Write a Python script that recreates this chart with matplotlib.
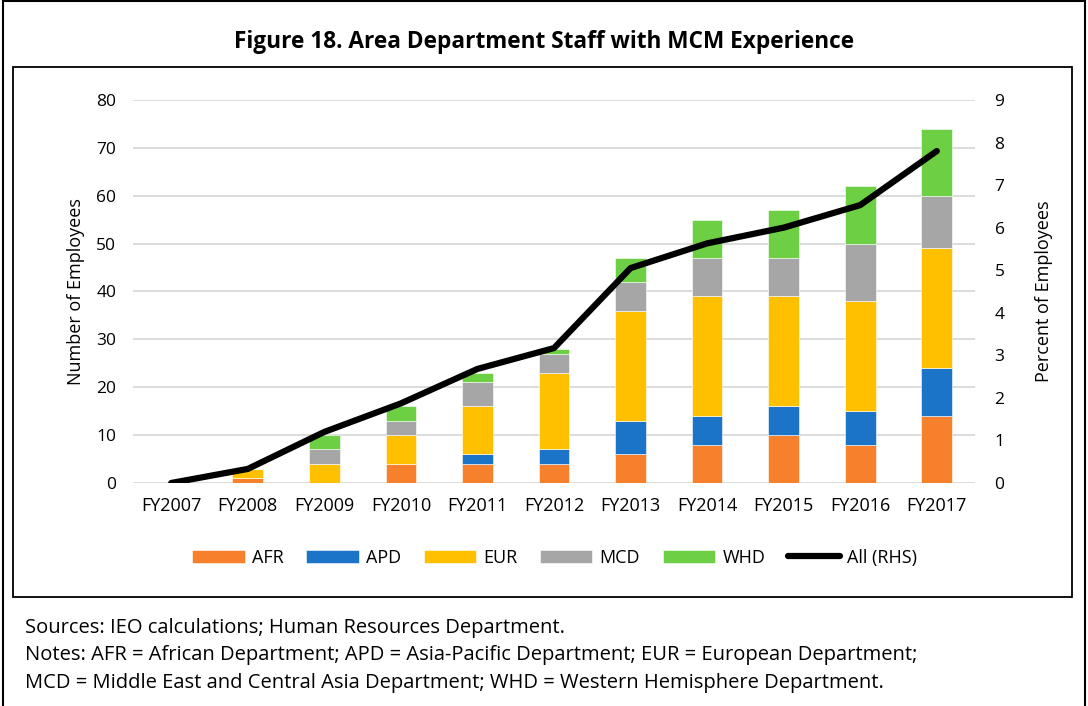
import numpy as np
import matplotlib
matplotlib.use("Agg")
import matplotlib.pyplot as plt
from matplotlib.lines import Line2D

plt.rcParams['font.family'] = ['Open Sans', 'DejaVu Sans']

# Data
years = ['FY2007', 'FY2008', 'FY2009', 'FY2010', 'FY2011', 'FY2012',
         'FY2013', 'FY2014', 'FY2015', 'FY2016', 'FY2017']
afr = [0, 1, 0, 4, 4, 4, 6, 8, 10, 8, 14]
apd = [0, 0, 0, 0, 2, 3, 7, 6, 6, 7, 10]
eur = [0, 2, 4, 6, 10, 16, 23, 25, 23, 23, 25]
mcd = [0, 0, 3, 3, 5, 4, 6, 8, 8, 12, 11]
whd = [0, 0, 3, 3, 2, 1, 5, 8, 10, 12, 14]
all_pct = [0.0, 0.33, 1.2, 1.87, 2.68, 3.17, 5.05, 5.63, 6.0, 6.53, 7.8]

series = [('AFR', afr, '#F7802C'), ('APD', apd, '#1B74C8'),
          ('EUR', eur, '#FFC000'), ('MCD', mcd, '#A6A6A6'),
          ('WHD', whd, '#6DCF44')]

fig = plt.figure(figsize=(10.88, 7.06), dpi=100)

# frames
fig.add_artist(plt.Rectangle((0.012, 0.154), 0.973, 0.751, transform=fig.transFigure,
                             fill=False, edgecolor='black', linewidth=1.3))
fig.add_artist(Line2D([0.003, 0.003], [0.0, 0.999], transform=fig.transFigure, color='black', lw=1.5))
fig.add_artist(Line2D([0.003, 0.997], [0.999, 0.999], transform=fig.transFigure, color='black', lw=1.5))
fig.add_artist(Line2D([0.997, 0.997], [0.999, 0.0], transform=fig.transFigure, color='black', lw=1.5))

ax = fig.add_axes([0.1222, 0.3159, 0.7740, 0.5425])
x = np.arange(len(years))
bottom = np.zeros(len(years))
for name, vals, col in series:
    ax.bar(x, vals, width=0.4, bottom=bottom, color=col, label=name,
           edgecolor='white', linewidth=0.4, zorder=3)
    bottom += np.array(vals)

ax.set_ylim(0, 80)
ax.set_yticks(range(0, 81, 10))
ax.set_xlim(-0.5, len(years) - 0.5)
ax.set_xticks(x)
ax.set_xticklabels(years)
ax.grid(axis='y', color='#D9D9D9', linewidth=1.3, zorder=0)
for s in ax.spines.values():
    s.set_visible(False)
ax.tick_params(length=0, labelsize=12.5, pad=12)
ax.tick_params(axis='x', labelsize=13, pad=10)
ax.set_ylabel('Number of Employees', fontsize=13, labelpad=8)

ax2 = ax.twinx()
ax2.plot(x, all_pct, color='black', linewidth=4.5, solid_capstyle='round', zorder=5,
         label='All (RHS)')
ax2.set_ylim(0, 9)
ax2.set_yticks(range(0, 10))
for s in ax2.spines.values():
    s.set_visible(False)
ax2.tick_params(length=0, labelsize=12.5, pad=14)
ax2.set_ylabel('Percent of Employees', fontsize=13, labelpad=22)

h1, l1 = ax.get_legend_handles_labels()
h2, l2 = ax2.get_legend_handles_labels()
fig.legend(h1 + h2, l1 + l2, loc='center', bbox_to_anchor=(0.51, 0.21), ncol=6,
           frameon=False, fontsize=13, handlelength=2.9, handleheight=0.8,
           columnspacing=1.25, handletextpad=0.4)

fig.text(0.5, 0.94, 'Figure 18. Area Department Staff with MCM Experience',
         ha='center', va='center', fontsize=16.3, fontweight='bold')
fig.text(0.023, 0.110, 'Sources: IEO calculations; Human Resources Department.',
         fontsize=14.5, va='center')
fig.text(0.023, 0.072, 'Notes: AFR = African Department; APD = Asia-Pacific Department; '
         'EUR = European Department;', fontsize=14.5, va='center')
fig.text(0.023, 0.033, 'MCD = Middle East and Central Asia Department; '
         'WHD = Western Hemisphere Department.', fontsize=14.5, va='center')

fig.savefig('out.png', dpi=100)
